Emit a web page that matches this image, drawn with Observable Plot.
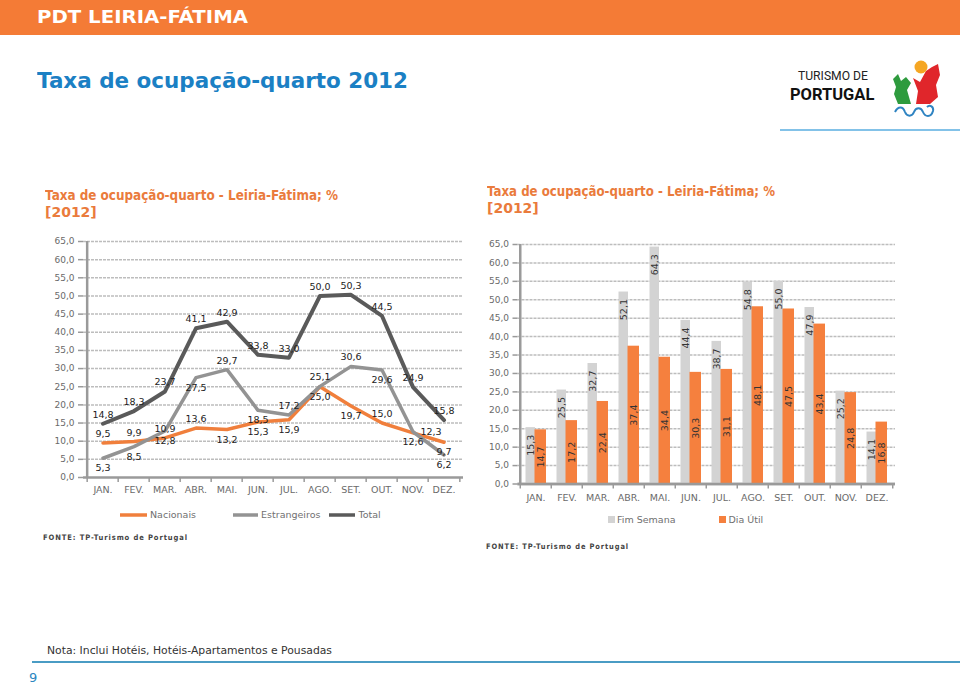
<!DOCTYPE html>
<html><head><meta charset="utf-8">
<script src="https://cdn.jsdelivr.net/npm/d3@7"></script>
<script src="https://cdn.jsdelivr.net/npm/@observablehq/plot@0.6"></script>
<style>
body{margin:0;width:960px;height:687px;position:relative;background:#fff;font-family:"DejaVu Sans",Verdana,sans-serif;overflow:hidden}
.abs{position:absolute;white-space:nowrap}
.fit{display:inline-block;transform-origin:0 50%}
.leg{font-size:9.5px;color:#707070;display:flex;align-items:center}
.fonte{font-size:7.5px;font-weight:bold;letter-spacing:1px;color:#444}
</style></head><body>
<div class="abs" style="left:0;top:0;width:960px;height:35px;background:#f47b36"></div>
<div class="abs" style="left:37px;top:6px;color:#fff;font-weight:bold;font-size:18px"><span class="fit" data-w="211">PDT LEIRIA-FÁTIMA</span></div>
<div class="abs" style="left:37px;top:68px;color:#1b80c4;font-weight:bold;font-size:22px"><span class="fit" data-w="371">Taxa de ocupação-quarto 2012</span></div>

<svg class="abs" style="left:780px;top:55px" width="180" height="80">
  <text x="18" y="25" font-family="Roboto" font-size="13.5" fill="#222" transform="translate(18,0) scale(0.9,1) translate(-18,0)">TURISMO DE</text>
  <text x="10" y="45" font-family="Roboto" font-weight="bold" font-size="17" fill="#111" transform="translate(10,0) scale(0.97,1) translate(-10,0)">PORTUGAL</text>
  <polygon points="113,24 118,19 121,26 126,22 131,28 127,35 131,49 118,49 114,39 116,32" fill="#2e9b3e"/>
  <polygon points="133,23 140,27 146,16 152,12 158,9 160,20 156,30 158,42 150,49 136,49 138,36" fill="#e0262b"/>
  <circle cx="141" cy="12" r="6.5" fill="#f5a623"/>
  <path d="M115,57 c3,-6 8,-6 10,0 c2,5 7,5 9,0 c2,-5 7,-5 9,0 c2,5 8,6 10,-1 c1,-4 -3,-7 -6,-4" stroke="#2f84c2" stroke-width="2" fill="none"/>
  <line x1="0" y1="75" x2="180" y2="75" stroke="#5aaee0" stroke-width="1.5"/>
</svg>

<div class="abs" style="left:45px;top:187px;color:#ea7b3c;font-weight:bold;font-size:14px;line-height:17px"><span class="fit" data-w="293">Taxa de ocupação-quarto - Leiria-Fátima; %</span><br>[2012]</div>
<div class="abs" style="left:487px;top:183px;color:#ea7b3c;font-weight:bold;font-size:14px;line-height:17px"><span class="fit" data-w="288">Taxa de ocupação-quarto - Leiria-Fátima; %</span><br>[2012]</div>

<div id="left" class="abs" style="left:0;top:230px"></div>
<div id="right" class="abs" style="left:480px;top:230px"></div>

<div class="abs leg" style="left:120px;top:509px">
  <svg width="27" height="10"><line x1="0" y1="5" x2="27" y2="5" stroke="#f07f3c" stroke-width="3.5"/></svg><span style="margin-left:3px">Nacionais</span>
  <svg width="25" height="10" style="margin-left:37px"><line x1="0" y1="5" x2="25" y2="5" stroke="#939393" stroke-width="3.5"/></svg><span style="margin-left:3px">Estrangeiros</span>
  <svg width="26" height="10" style="margin-left:9px"><line x1="0" y1="5" x2="26" y2="5" stroke="#5a5a5a" stroke-width="3.5"/></svg><span style="margin-left:3px">Total</span>
</div>
<div class="abs leg" style="left:608px;top:514px">
  <svg width="7" height="7"><rect width="7" height="7" fill="#d3d3d3"/></svg><span style="margin-left:2px">Fim Semana</span>
  <svg width="7" height="7" style="margin-left:44px"><rect width="7" height="7" fill="#f5803e"/></svg><span style="margin-left:2px">Dia Útil</span>
</div>

<div class="abs fonte" style="left:43px;top:533px"><span class="fit" data-w="145">FONTE: TP-Turismo de Portugal</span></div>
<div class="abs fonte" style="left:486px;top:542px"><span class="fit" data-w="143">FONTE: TP-Turismo de Portugal</span></div>

<div class="abs" style="left:47px;top:644px;font-size:10.5px;color:#333"><span class="fit" data-w="285">Nota: Inclui Hotéis, Hotéis-Apartamentos e Pousadas</span></div>
<div class="abs" style="left:32px;top:661px;width:928px;height:2px;background:#4a9cc4"></div>
<div class="abs" style="left:29px;top:670px;font-size:13px;color:#2b86c0">9</div>

<script>
const months = ["JAN.","FEV.","MAR.","ABR.","MAI.","JUN.","JUL.","AGO.","SET.","OUT.","NOV.","DEZ."];
const nacionais    = [9.5, 9.9, 10.9, 13.6, 13.2, 15.3, 15.9, 25.0, 19.7, 15.0, 12.3, 9.7];
const estrangeiros = [5.3, 8.5, 12.8, 27.5, 29.7, 18.5, 17.2, 25.1, 30.6, 29.6, 12.6, 6.2];
const total        = [14.8, 18.3, 23.7, 41.1, 42.9, 33.8, 33.0, 50.0, 50.3, 44.5, 24.9, 15.8];
const fimSemana    = [15.3, 25.5, 32.7, 52.1, 64.3, 44.4, 38.7, 54.8, 55.0, 47.9, 25.2, 14.1];
const diaUtil      = [14.7, 17.2, 22.4, 37.4, 34.4, 30.3, 31.1, 48.1, 47.5, 43.4, 24.8, 16.8];
const yTicks = [0, 5, 10, 15, 20, 25, 30, 35, 40, 45, 50, 55, 60, 65];
// label placement (a = above, b = below, r = right), as in the source
const posNac = ["a","a","a","a","b","b","b","b","b","a","r","b"];
const posEst = ["b","b","b","b","a","b","a","a","a","b","b","b"];
const posTot = ["a","a","a","a","a","a","a","a","a","a","a","a"];

const fmt = d => d.toFixed(1).replace(".", ",");

const orange = "#f07f3c", gray = "#939393", dark = "#5a5a5a";

function rows(vals, pos, series) {
  return months.map((m, i) => ({m, v: vals[i], p: pos ? pos[i] : null, s: series}));
}
const nac = rows(nacionais, posNac, "Nacionais");
const est = rows(estrangeiros, posEst, "Estrangeiros");
const tot = rows(total, posTot, "Total");

function labelMarks(data) {
  const o = {x: "m", y: "v", text: d => fmt(d.v), fontSize: 9.5, fill: "#222"};
  return [
    Plot.text(data.filter(d => d.p === "a"), {...o, dy: -9}),
    Plot.text(data.filter(d => d.p === "b"), {...o, dy: 10}),
    Plot.text(data.filter(d => d.p === "r"), {...o, dx: 18, dy: -1})
  ];
}

function frameMarks(W, mL, mR, tickPad) {
  const step = (W - mL - mR) / months.length;
  return [
    Plot.ruleY(yTicks.filter(d => d > 0), {y: d => d, stroke: "#bdbdbd", strokeWidth: 1.5, strokeDasharray: "3,1"}),
    Plot.ruleX([months[0]], {x: d => d, dx: -step / 2, y1: 0, y2: 65, stroke: "#9a9a9a", strokeWidth: 2.5}),
    Plot.ruleY([0], {y: d => d, stroke: "#9a9a9a", strokeWidth: 2.5}),
    Plot.ruleX(months, {x: d => d, dx: -step / 2, y1: 0, y2: 0, insetBottom: -5, stroke: "#9a9a9a", strokeWidth: 1.5}),
    Plot.ruleX([months[months.length - 1]], {x: d => d, dx: step / 2, y1: 0, y2: 0, insetBottom: -5, stroke: "#9a9a9a", strokeWidth: 1.5}),
    Plot.axisY({ticks: yTicks, tickFormat: fmt, tickSize: 5, tickPadding: 4, fontSize: 9, fill: "#6a6a6a", stroke: "#9a9a9a", strokeWidth: 1.5, label: null}),
    Plot.axisX({tickSize: 0, tickPadding: tickPad, fontSize: 9.5, fill: "#6a6a6a", label: null})
  ];
}

const leftW = 480, lML = 83, lMR = 17;
const left = Plot.plot({
  width: leftW, height: 270,
  marginLeft: lML, marginRight: lMR, marginTop: 11, marginBottom: 23,
  style: {fontFamily: "DejaVu Sans", overflow: "visible", background: "transparent"},
  x: {type: "band", domain: months, padding: 0, label: null},
  y: {domain: [0, 65], label: null},
  marks: [
    ...frameMarks(leftW, lML, lMR, 9),
    Plot.line(nac, {x: "m", y: "v", stroke: orange, strokeWidth: 3.5}),
    Plot.line(est, {x: "m", y: "v", stroke: gray, strokeWidth: 3.5}),
    Plot.line(tot, {x: "m", y: "v", stroke: dark, strokeWidth: 4}),
    ...labelMarks(nac), ...labelMarks(est), ...labelMarks(tot)
  ]
});
document.getElementById("left").append(left);

const fs = months.map((m, i) => ({m, v: fimSemana[i]}));
const du = months.map((m, i) => ({m, v: diaUtil[i]}));
const rightW = 480, rML = 37.5, rMR = 65;
const right = Plot.plot({
  width: rightW, height: 280,
  marginLeft: rML, marginRight: rMR, marginTop: 14, marginBottom: 26.5,
  style: {fontFamily: "DejaVu Sans", overflow: "visible", background: "transparent"},
  x: {type: "band", domain: months, padding: 0, label: null},
  y: {domain: [0, 65], label: null},
  marks: [
    ...frameMarks(rightW, rML, rMR, 10),
    Plot.barY(fs, {x: "m", y: "v", fill: "#d3d3d3", insetLeft: 5.5, insetRight: 16}),
    Plot.barY(du, {x: "m", y: "v", fill: "#f5803e", insetLeft: 14.5, insetRight: 5}),
    Plot.ruleY([0], {y: d => d, stroke: "#9a9a9a", strokeWidth: 2.5}),
    Plot.text(fs, {x: "m", y: "v", text: d => fmt(d.v), rotate: -90, textAnchor: "end", dx: -5, dy: 7, fontSize: 9.5, fill: "#333"}),
    Plot.text(du, {x: "m", y: d => d.v / 2, text: d => fmt(d.v), rotate: -90, textAnchor: "middle", dx: 5, fontSize: 9.5, fill: "#333"})
  ]
});
document.getElementById("right").append(right);

document.querySelectorAll(".fit").forEach(el => {
  const w = el.getBoundingClientRect().width;
  const t = +el.dataset.w;
  if (w > 0) el.style.transform = `scaleX(${t / w})`;
});
</script>
</body></html>
